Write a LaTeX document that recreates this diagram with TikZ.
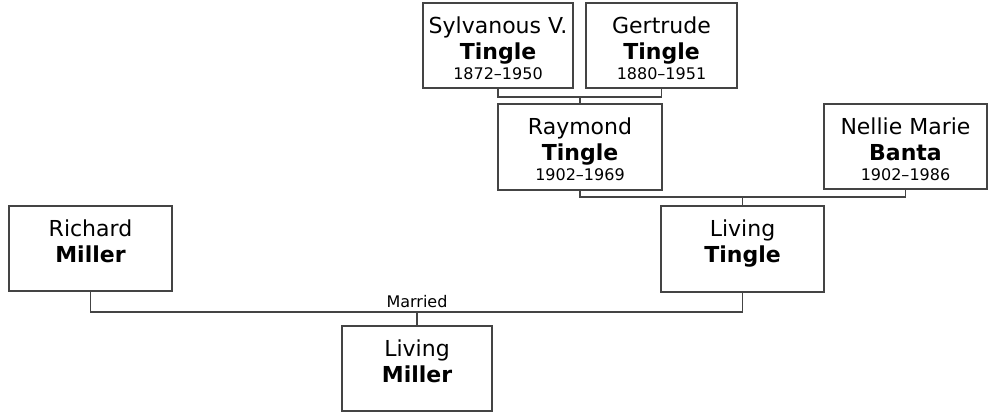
\documentclass[tikz,border=0pt]{standalone}
\usepackage{fontspec}
\setmainfont{DejaVu Sans}
\usepackage{tikz}
\usetikzlibrary{calc, positioning}
\definecolor{lineclr}{HTML}{444444}
\tikzset{
  personbox/.style  = {draw=lineclr, line width=1.3pt, fill=white, inner sep=0pt},
  persontext/.style = {font=\fontsize{16.5}{19.5}\selectfont, align=center,
                       inner sep=0pt, anchor=north},
  famline/.style    = {draw=lineclr, line width=1.4pt},
  marrlab/.style    = {font=\fontsize{12}{13}\selectfont, inner sep=0pt},
}
% \person{name}{x}{y}{w}{h}{first}{last}{dates}
\newcommand{\person}[8]{%
  \node[personbox, minimum width=#4*0.75pt, minimum height=#5*0.75pt] (#1) at (#2,#3) {};
  \node[persontext, below=11pt of #1.north] (#1-txt) {#6\\\textbf{#7}\\[-5pt]{\fontsize{12}{14}\selectfont #8}};}

\begin{document}
\begin{tikzpicture}[x=0.75pt, y=-0.75pt]
  \useasboundingbox (0,0) rectangle (991,413);
  \person{syl}{498}{45.5}{150}{85}{Sylvanous V.}{Tingle}{1872–1950}
  \person{ger}{661.5}{45.5}{151}{85}{Gertrude}{Tingle}{1880–1951}
  \person{ray}{580}{147}{164}{86}{Raymond}{Tingle}{1902–1969}
  \person{nel}{905.5}{146.5}{163}{85}{Nellie Marie}{Banta}{1902–1986}
  \person{liv}{742.5}{249}{163}{86}{Living}{Tingle}{}
  \person{ric}{90.5}{248.5}{163}{85}{Richard}{Miller}{}
  \person{lim}{417}{368.5}{150}{85}{Living}{Miller}{}
  % parents of Raymond
  \coordinate (sg) at (580,97);
  \draw[famline] (syl.south) |- (sg) -| (ger.south);
  \draw[famline] (sg) -- (ray.north);
  % parents of Living Tingle
  \coordinate (rn) at (742.5,197);
  \draw[famline] (ray.south) |- (rn) -| (nel.south);
  \draw[famline] (rn) -- (liv.north);
  % parents of Living Miller
  \coordinate (rl) at (417,312);
  \draw[famline] (ric.south) |- (rl) -| (liv.south);
  \draw[famline] (rl) -- (lim.north);
  \node[marrlab, above=3pt of rl] (marr) {Married};
\end{tikzpicture}
\end{document}
